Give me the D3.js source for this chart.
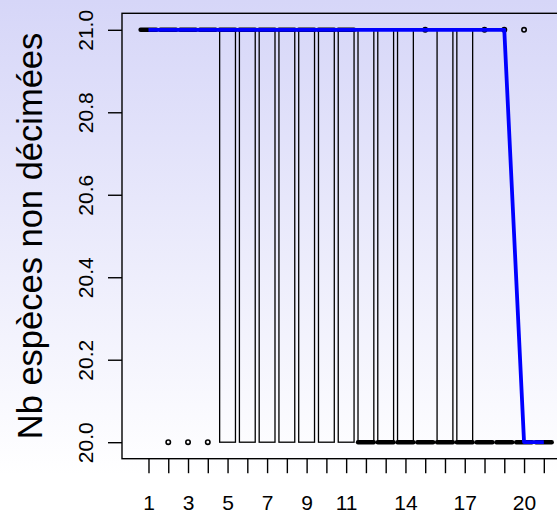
<!DOCTYPE html>
<html>
<head>
<meta charset="utf-8">
<script src="https://cdn.jsdelivr.net/npm/d3@7"></script>
<style>
  html, body { margin: 0; padding: 0; background: #fff; }
  svg { display: block; }
  text { font-family: "Liberation Sans", Arial, sans-serif; fill: #000; }
</style>
</head>
<body>
<svg id="chart" width="557" height="516"></svg>
<script>
// ---- data ----
const categories = d3.range(1, 22);
const q1Values      = [21,21,21,21,20,20,20,20,20,20,20,20,20,20,20,20,20,20,20,20,20];
const medianValues  = [21,21,21,21,21,21,21,21,21,21,21,20,20,20,20,20,20,20,20,20,20];
const q3Values      = [21,21,21,21,21,21,21,21,21,21,21,21,21,21,20,21,21,20,20,20,20];
const outlierValues = [[],[20],[20],[20],[],[],[],[],[],[],[],[],[],[],[21],[],[],[21],[21],[21],[]];
const lineValues    = [21,21,21,21,21,21,21,21,21,21,21,21,21,21,21,21,21,21,21,20,20];
const xTickLabels   = ["1","","3","","5","","7","","9","","11","","","14","","","17","","","20",""];
const yTicks        = [20.0, 20.2, 20.4, 20.6, 20.8, 21.0];
const yTitle        = "Nb espèces non décimées";

// ---- layout ----
const W = 557, H = 516;
const plotLeft = 122, plotTop = 13.3, plotBottom = 458.7;
const svg = d3.select("#chart");

const defs = svg.append("defs");
const grad = defs.append("linearGradient").attr("id", "bg").attr("x1", 0).attr("y1", 0).attr("x2", 0).attr("y2", 1);
grad.append("stop").attr("offset", "0").attr("stop-color", "#d6d6f8");
grad.append("stop").attr("offset", "0.92").attr("stop-color", "#ffffff");
grad.append("stop").attr("offset", "1").attr("stop-color", "#ffffff");
svg.append("rect").attr("width", W).attr("height", H).attr("fill", "url(#bg)");

const x = d3.scaleLinear().domain([-0.34, 22.34]).range([plotLeft, 570.3]);
const y = d3.scaleLinear().domain([19.96, 21.04]).range([plotBottom, plotTop]);
const unit = x(2) - x(1);
const halfBox = unit * 0.4;

// boxes
const g = svg.append("g");
categories.forEach((c, i) => {
  const cx = x(c);
  g.append("rect")
    .attr("x", cx - halfBox).attr("width", halfBox * 2)
    .attr("y", y(q3Values[i])).attr("height", Math.max(0, y(q1Values[i]) - y(q3Values[i])))
    .attr("fill", "none").attr("stroke", "#000").attr("stroke-width", 1.3);
});
categories.forEach((c, i) => {
  const cx = x(c);
  g.append("line")
    .attr("x1", cx - halfBox).attr("x2", cx + halfBox)
    .attr("y1", y(medianValues[i])).attr("y2", y(medianValues[i]))
    .attr("stroke", "#000").attr("stroke-width", 4.4).attr("stroke-linecap", "round");
});
categories.forEach((c, i) => {
  outlierValues[i].forEach(v => {
    g.append("circle").attr("cx", x(c)).attr("cy", y(v)).attr("r", 2.2)
      .attr("fill", "none").attr("stroke", "#000").attr("stroke-width", 1.6);
  });
});

// blue line
svg.append("path")
  .datum(categories.map((c, i) => [c, lineValues[i]]))
  .attr("d", d3.line().x(d => x(d[0])).y(d => y(d[1])))
  .attr("fill", "none").attr("stroke", "#0000ff").attr("stroke-width", 3.8)
  .attr("stroke-linejoin", "round");

// frame
svg.append("rect")
  .attr("x", plotLeft).attr("y", plotTop)
  .attr("width", 570.3 - plotLeft).attr("height", plotBottom - plotTop)
  .attr("fill", "none").attr("stroke", "#000").attr("stroke-width", 1.4);

// x axis
const xAxis = d3.axisBottom(x).tickValues(categories)
  .tickFormat((d, i) => xTickLabels[i]).tickSize(14.5).tickPadding(21.5);
const gx = svg.append("g").attr("transform", `translate(0,${plotBottom})`).call(xAxis);
gx.select(".domain").remove();
gx.selectAll(".tick line").attr("stroke", "#000").attr("stroke-width", 1.4);
gx.selectAll(".tick text").attr("font-size", 21).attr("font-family", "Liberation Sans, Arial, sans-serif").attr("fill", "#000");

// y axis
const yAxis = d3.axisLeft(y).tickValues(yTicks).tickFormat(d3.format(".1f")).tickSize(14).tickPadding(0);
const gy = svg.append("g").attr("transform", `translate(${plotLeft},0)`).call(yAxis);
gy.select(".domain").remove();
gy.selectAll(".tick line").attr("stroke", "#000").attr("stroke-width", 1.4);
gy.selectAll(".tick text")
  .attr("font-size", 21).attr("font-family", "Liberation Sans, Arial, sans-serif").attr("fill", "#000")
  .attr("x", null).attr("dy", null)
  .attr("text-anchor", "middle")
  .attr("transform", "translate(-29,0) rotate(-90)");

// y title
svg.append("text")
  .attr("transform", `translate(42,${(plotTop + plotBottom) / 2}) rotate(-90)`)
  .attr("text-anchor", "middle")
  .attr("font-size", 34.5)
  .text(yTitle);
</script>
</body>
</html>
